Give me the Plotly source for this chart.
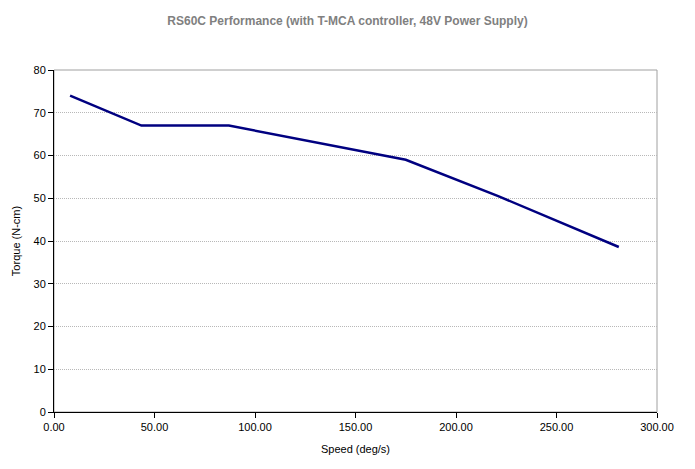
import plotly.graph_objects as go

speed = [8.0, 43.5, 87.0, 175.0, 221.0, 281.0]
torque = [74.0, 67.0, 67.0, 59.0, 50.5, 38.6]

x_ticks = [0, 50, 100, 150, 200, 250, 300]
x_labels = ["0.00", "50.00", "100.00", "150.00", "200.00", "250.00", "300.00"]
y_ticks = [0, 10, 20, 30, 40, 50, 60, 70, 80]

fig = go.Figure()
fig.add_trace(go.Scatter(x=speed, y=torque, mode="lines",
                         line=dict(color="#000080", width=2.5), showlegend=False))

font = "Liberation Sans, Arial, sans-serif"
fig.update_layout(
    width=695, height=469,
    margin=dict(l=54, r=38, t=70, b=57),
    paper_bgcolor="white", plot_bgcolor="white",
    font=dict(family=font, size=11, color="black"),
    title=dict(text="<b>RS60C Performance (with T-MCA controller, 48V Power Supply)</b>",
               x=0.5, xanchor="center", y=0.955, yanchor="middle",
               font=dict(family=font, size=12, color="#808080")),
    xaxis=dict(range=[0, 300], tickvals=x_ticks, ticktext=x_labels,
               showgrid=False, zeroline=False, showline=True, linecolor="black",
               linewidth=1, ticks="outside", ticklen=5, tickcolor="black",
               title=dict(text="Speed (deg/s)", font=dict(size=11), standoff=13)),
    yaxis=dict(range=[0, 80], tickvals=y_ticks,
               showgrid=True, gridcolor="#b8b8b8", griddash="1px,1px", gridwidth=1,
               zeroline=False, showline=True, linecolor="black",
               linewidth=1, ticks="outside", ticklen=5, tickcolor="black",
               title=dict(text="Torque (N-cm)", font=dict(size=11), standoff=10)),
)
fig.add_shape(type="rect", xref="paper", yref="paper", x0=0, y0=0, x1=1, y1=1,
              line=dict(color="#a0a0a0", width=1), layer="below")
fig.write_html("out.html")
